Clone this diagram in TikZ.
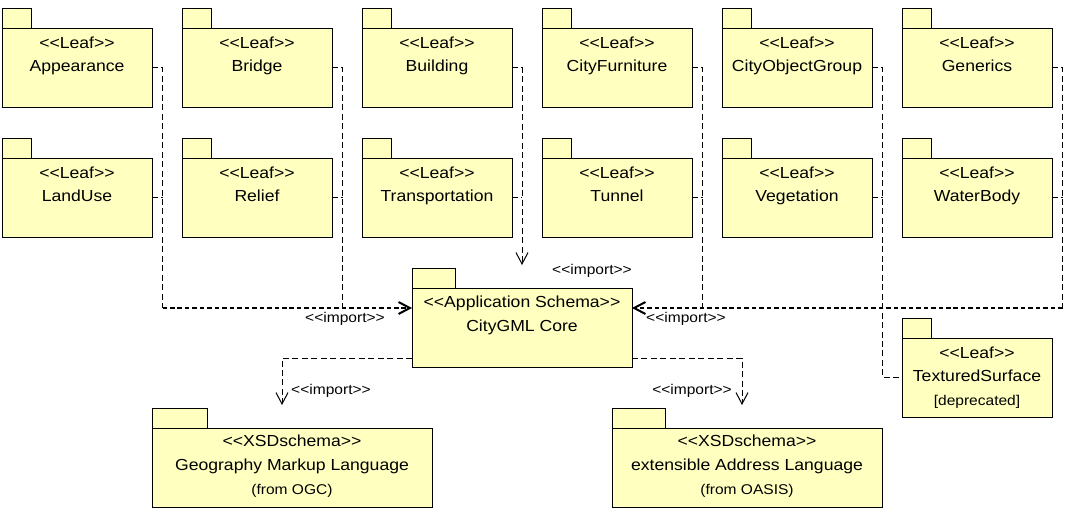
\documentclass[tikz,border=0pt]{standalone}
\usepackage{fontspec}
\setmainfont{Liberation Sans}[FakeStretch=1.1,Ligatures=TeXOff]
\usetikzlibrary{arrows.meta,calc}
\definecolor{pkgfill}{HTML}{FFFFC0}
\tikzset{
  pkgtab/.style={draw=black,fill=pkgfill,line width=0.75pt},
  pkgbody/.style={draw=black,fill=pkgfill,line width=0.75pt,inner sep=0pt,outer sep=0pt},
  maintxt/.style={font=\fontsize{12pt}{14pt}\selectfont,inner sep=0pt,anchor=base,text=black},
  smalltxt/.style={font=\fontsize{10.6pt}{12pt}\selectfont,inner sep=0pt,anchor=base,text=black},
  dep/.style={draw=black,line width=0.75pt,dash pattern=on 4.5pt off 2.6pt},
  depthick/.style={draw=black,line width=1.5pt,dash pattern=on 3.4pt off 2.2pt},
  imp/.style={-{Straight Barb[length=8.5pt,width=9pt]}}
}
\newcommand{\umlpkg}[6]{% name, left, body top, width, height, tab width
  \path[pkgtab] (#2,#3-20) rectangle (#2+#6,#3);
  \node[pkgbody,minimum width=#4*0.75pt,minimum height=#5*0.75pt,anchor=north west] (#1) at (#2,#3) {};
}
\newcommand{\leafpkg}[4]{% name, left, body top, title
  \umlpkg{#1}{#2}{#3}{150}{79}{29}
  \node[maintxt] (#1-s) at ($(#1.north)+(0,20)$) {<<Leaf>>};
  \node[maintxt] (#1-n) at ($(#1.north)+(0,43.5)$) {#4};
}
\begin{document}
\begin{tikzpicture}[x=0.75pt,y=-0.75pt]
\useasboundingbox (0,0) rectangle (1065,522);

% row 1
\leafpkg{app}{2}{28}{Appearance}
\leafpkg{bridge}{182}{28}{Bridge}
\leafpkg{building}{362}{28}{Building}
\leafpkg{furniture}{542}{28}{CityFurniture}
\leafpkg{cog}{722}{28}{CityObjectGroup}
\leafpkg{generics}{902}{28}{Generics}
% row 2
\leafpkg{landuse}{2}{158}{LandUse}
\leafpkg{relief}{182}{158}{Relief}
\leafpkg{transport}{362}{158}{Transportation}
\leafpkg{tunnel}{542}{158}{Tunnel}
\leafpkg{veg}{722}{158}{Vegetation}
\leafpkg{water}{902}{158}{WaterBody}

% TexturedSurface
\leafpkg{ts}{902}{338}{TexturedSurface}
\node[smalltxt] (ts-d) at ($(ts.north)+(0,67.5)$) {[deprecated]};

% Core
\umlpkg{core}{412}{288}{220}{79}{43}
\node[maintxt] (core-s) at ($(core.north)+(0,19)$) {<<Application Schema>>};
\node[maintxt] (core-n) at ($(core.north)+(0,43.5)$) {CityGML Core};

% GML
\umlpkg{gml}{152}{428}{280}{79}{55}
\node[maintxt] (gml-s) at ($(gml.north)+(0,18)$) {<<XSDschema>>};
\node[maintxt] (gml-n) at ($(gml.north)+(0,42.7)$) {Geography Markup Language};
\node[smalltxt] (gml-f) at ($(gml.north)+(0,66)$) {(from OGC)};

% xAL
\umlpkg{xal}{612}{428}{270}{79}{53}
\node[maintxt] (xal-s) at ($(xal.north)+(0,18)$) {<<XSDschema>>};
\node[maintxt] (xal-n) at ($(xal.north)+(0,42.7)$) {extensible Address Language};
\node[smalltxt] (xal-f) at ($(xal.north)+(0,66)$) {(from OASIS)};

% junction coordinates
\coordinate (jL) at (162.5,308);
\coordinate (jB) at (342.5,308);
\coordinate (bTip) at (522,265);
\coordinate (jF) at (702.5,308);
\coordinate (jG) at (882.5,308);
\coordinate (jR) at (1062.5,308);
\coordinate (gTip) at (282,405);
\coordinate (xTip) at (742,405);

% left group
\draw[dep] (app.east) -| (jL);
\draw[dep] (landuse.east) -- (landuse.east -| jL);
\draw[dep] (bridge.east) -| (jB);
\draw[dep] (relief.east) -- (relief.east -| jB);
\draw[depthick,imp] (jL) -- (core.west |- jL);

% building group
\draw[dep,imp] (building.east) -| (bTip);
\draw[dep] (transport.east) -- (transport.east -| bTip);

% right group
\draw[dep] (furniture.east) -| (jF);
\draw[dep] (tunnel.east) -- (tunnel.east -| jF);
\draw[dep] (generics.east) -| (jR);
\draw[dep] (water.east) -- (water.east -| jR);
\draw[depthick,imp] (jR) -- (core.east |- jR);

% CityObjectGroup / Vegetation to TexturedSurface
\draw[dep] (cog.east) -- (cog.east -| jG) |- (ts.west);
\draw[dep] (veg.east) -- (veg.east -| jG);

% core to external schemas
\draw[dep,imp] ([yshift=6.75pt]core.south west) -| (gTip);
\draw[dep,imp] ([yshift=6.75pt]core.south east) -| (xTip);

% labels
\node[smalltxt] (lb1) at (592,274.3) {<<import>>};
\node[smalltxt] (lb2) at (345,322.7) {<<import>>};
\node[smalltxt] (lb3) at (686,322.7) {<<import>>};
\node[smalltxt] (lb4) at (331,394.3) {<<import>>};
\node[smalltxt] (lb5) at (692,394.3) {<<import>>};
\end{tikzpicture}
\end{document}
